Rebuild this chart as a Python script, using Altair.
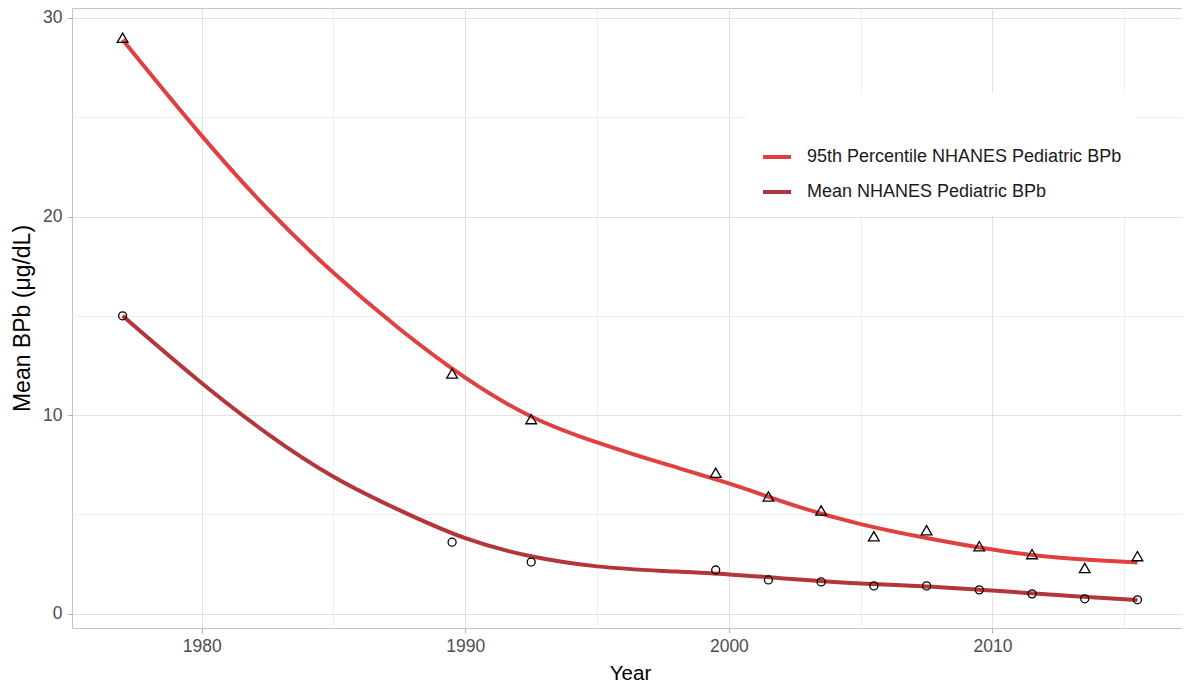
import altair as alt
import pandas as pd

# Observed survey values (NHANES cycles, mid-years)
survey_year = [1977, 1989.5, 1992.5, 1999.5, 2001.5, 2003.5, 2005.5, 2007.5, 2009.5, 2011.5, 2013.5, 2015.5]
p95_obs = [29.0, 12.1, 9.8, 7.1, 5.9, 5.2, 3.9, 4.2, 3.4, 3.0, 2.3, 2.9]
mean_obs = [15.0, 3.6, 2.6, 2.2, 1.7, 1.6, 1.4, 1.4, 1.2, 1.0, 0.75, 0.7]

# Smoothed curves
fit_year = [1977, 1980, 1982.5, 1985, 1987.5, 1990, 1992.5, 1995, 1997.5, 2000, 2002.5, 2005, 2007.5, 2010, 2012.5, 2015.5]
p95_fit = [28.9, 24.0, 20.3, 17.1, 14.3, 11.8, 9.8, 8.6, 7.55, 6.6, 5.4, 4.47, 3.8, 3.2, 2.78, 2.58]
mean_fit = [15.0, 11.56, 9.0, 6.8, 5.2, 3.7, 2.83, 2.33, 2.15, 2.0, 1.73, 1.5, 1.39, 1.17, 0.93, 0.69]

series_names = ["95th Percentile NHANES Pediatric BPb", "Mean NHANES Pediatric BPb"]
series_colors = ["#E0403F", "#B3363A"]
x_ticks = [1975, 1980, 1985, 1990, 1995, 2000, 2005, 2010, 2015]
y_ticks = [0, 5, 10, 15, 20, 25, 30]

fit_df = pd.concat([
    pd.DataFrame({"Year": fit_year, "BPb": p95_fit, "Series": series_names[0]}),
    pd.DataFrame({"Year": fit_year, "BPb": mean_fit, "Series": series_names[1]}),
])
obs_df = pd.concat([
    pd.DataFrame({"Year": survey_year, "BPb": p95_obs, "Kind": "p95"}),
    pd.DataFrame({"Year": survey_year, "BPb": mean_obs, "Kind": "mean"}),
])

FONT = "Liberation Sans"

x_enc = alt.X(
    "Year:Q",
    scale=alt.Scale(domain=[1975.08, 2017.19], nice=False, zero=False),
    axis=alt.Axis(
        title="Year", values=x_ticks, format="d",
        labelExpr="datum.value % 10 === 0 ? datum.label : ''",
        tickColor={"condition": {"test": "datum.value % 10 === 0", "value": "#b3b3b3"}, "value": "transparent"},
        gridColor={"condition": {"test": "datum.value % 10 === 0", "value": "#e2e2e2"}, "value": "#efefef"},
        tickSize=5, labelPadding=4, titleFontSize=20.5,
        titleY=51, titleBaseline="alphabetic", titleX=558,
    ),
)
y_enc = alt.Y(
    "BPb:Q",
    scale=alt.Scale(domain=[-0.72, 30.5], nice=False, zero=False),
    axis=alt.Axis(
        title="Mean BPb (μg/dL)", values=y_ticks, format="d",
        labelExpr="datum.value % 10 === 0 ? datum.label : ''",
        tickColor={"condition": {"test": "datum.value % 10 === 0", "value": "#b3b3b3"}, "value": "transparent"},
        gridColor={"condition": {"test": "datum.value % 10 === 0", "value": "#e2e2e2"}, "value": "#efefef"},
        tickSize=5, labelPadding=5, titlePadding=8, titleFontSize=23,
    ),
)

lines = alt.Chart(fit_df).mark_line(strokeWidth=4, interpolate="basis", strokeCap="butt").encode(
    x=x_enc,
    y=y_enc,
    color=alt.Color(
        "Series:N",
        scale=alt.Scale(domain=series_names, range=series_colors),
        legend=alt.Legend(
            title=" ", orient="none", legendX=675, legendY=85,
            symbolType="stroke", symbolSize=784, symbolStrokeWidth=4,
            labelFontSize=18, labelColor="#1a1a1a", labelFont=FONT, labelOffset=14,
            labelLimit=0,
            titleFontSize=16, titlePadding=18, rowPadding=10,
            fillColor="white", padding=14, strokeColor="white",
        ),
    ),
    detail="Series:N",
)

points = alt.Chart(obs_df).mark_point(filled=False, color="black", strokeWidth=1.3, opacity=1).encode(
    x="Year:Q",
    y="BPb:Q",
    shape=alt.Shape("Kind:N", scale=alt.Scale(domain=["p95", "mean"], range=["triangle-up", "circle"]), legend=None),
    size=alt.Size("Kind:N", scale=alt.Scale(domain=["p95", "mean"], range=[115, 64]), legend=None),
)

chart = alt.layer(lines, points).properties(
    width=1110, height=620,
    autosize=alt.AutoSizeParams(type="none"),
    padding={"left": 64, "top": 0, "right": 0, "bottom": 57},
).configure_view(
    stroke="#c4c4c4", strokeWidth=1,
).configure_axis(
    domain=False,
    labelFont=FONT, titleFont=FONT,
    labelFontSize=17.5, titleFontSize=20,
    labelColor="#4d4d4d", titleColor="#000000",
    titleFontWeight="normal",
).configure_legend(
    titleFont=FONT,
)

chart.save("out.html", embed_options={"renderer": "svg", "actions": False})
